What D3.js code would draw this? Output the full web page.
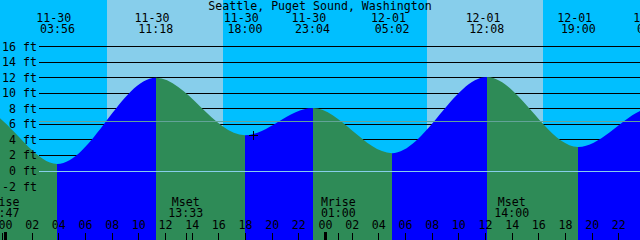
<!DOCTYPE html>
<html><head><meta charset="utf-8">
<script src="https://cdn.jsdelivr.net/npm/d3@7"></script>
<style>
html,body{margin:0;padding:0;background:#fff;overflow:hidden}
svg{display:block}
text{font-family:"DejaVu Sans Mono",monospace;font-size:11.6px;fill:#000}
</style></head><body>
<svg id="chart" width="640" height="240"></svg>
<script>
// ---- data ----
const title = "Seattle, Puget Sound, Washington";
const viewRange = ["2023-11-29T23:37:30", "2023-12-01T23:37:30"];
const tideTimes = ["2023-11-29T16:40:00","2023-11-29T22:00:00","2023-11-30T03:56:00","2023-11-30T11:18:00",
  "2023-11-30T18:00:00","2023-11-30T23:04:00","2023-12-01T05:02:00","2023-12-01T12:08:00",
  "2023-12-01T19:00:00","2023-12-02T00:42:00","2023-12-02T06:10:00"];
const tideLevels = [4.4, 8.1, 0.9, 12.0, 4.6, 8.1, 2.3, 12.1, 3.1, 8.2, 1.6];
const sunriseTimes = ["2023-11-30T07:38:00","2023-12-01T07:38:00"];
const sunsetTimes  = ["2023-11-30T16:20:00","2023-12-01T16:20:00"];
const moonTimes  = ["2023-11-29T23:47:00","2023-11-30T13:33:00","2023-12-01T01:00:00","2023-12-01T14:00:00"];
const moonEvents = ["Mrise","Mset","Mrise","Mset"];
const levelTicks = [-2,0,2,4,6,8,10,12,14,16];
const gridLevels = [2,4,6,8,10,12,14,16];
const datumLevel = 0;
const meanLevel = 6.5;
const nowTime = "2023-11-30T18:37:00";
const nowLevel = 4.6;

// ---- colours ----
const nightColor = "#00BFFF", dayColor = "#87CEEB";
const riseColor = "#0000FF", fallColor = "#2E8B57";
const datumColor = "#87CEEB", meanColor = "#62a398";

const W = 640, H = 240;
const parse = d3.utcParse("%Y-%m-%dT%H:%M:%S");
const svg = d3.select("#chart");

const x = d3.scaleUtc().domain(viewRange.map(parse)).range([0, W]);
const y = d3.scaleLinear().domain([0, 16]).range([171, 46.7]);

const tides = tideTimes.map((t, i) => ({t: parse(t), v: tideLevels[i]}));

// background: night then day bands
svg.append("rect").attr("x",0).attr("y",0).attr("width",W).attr("height",H).attr("fill",nightColor);
svg.append("g").selectAll("rect").data(sunriseTimes.map((s,i)=>[parse(s),parse(sunsetTimes[i])]))
  .join("rect")
  .attr("x", d=>Math.round(x(d[0]))).attr("y",0)
  .attr("width", d=>Math.round(x(d[1]))-Math.round(x(d[0]))).attr("height",H)
  .attr("fill", dayColor);

// grid lines
svg.append("g").attr("shape-rendering","crispEdges").selectAll("line").data(gridLevels).join("line")
  .attr("x1",39).attr("x2",W).attr("y1",d=>y(d)).attr("y2",d=>y(d))
  .attr("stroke","#000").attr("stroke-width",1);

// tide fill, coloured by rising / falling
const area = d3.area().x(d=>x(d.t)).y0(H).y1(d=>y(d.v)).curve(d3.curveMonotoneX);
const defs = svg.append("defs");
const segs = d3.pairs(tides);
segs.forEach((p, i) => {
  const x0 = Math.round(x(p[0].t)), x1 = Math.round(x(p[1].t));
  defs.append("clipPath").attr("id","seg"+i).append("rect")
    .attr("x",x0).attr("y",0).attr("width",x1-x0).attr("height",H);
  svg.append("path").datum(tides).attr("d",area)
    .attr("clip-path","url(#seg"+i+")")
    .attr("fill", p[1].v > p[0].v ? riseColor : fallColor);
});

// datum and mean lines
svg.append("g").attr("shape-rendering","crispEdges").selectAll("line")
  .data([{v:meanLevel,c:meanColor},{v:datumLevel,c:datumColor}]).join("line")
  .attr("x1",39).attr("x2",W).attr("y1",d=>Math.round(y(d.v))+0.5).attr("y2",d=>Math.round(y(d.v))+0.5)
  .attr("stroke",d=>d.c).attr("stroke-width",1);

// level labels
svg.append("g").selectAll("text").data(levelTicks).join("text")
  .attr("x",37).attr("y",d=>y(d)+4).attr("text-anchor","end")
  .text(d=>d+" ft");

// title
svg.append("text").attr("x",W/2).attr("y",9.5).attr("text-anchor","middle").text(title);

// tide extreme labels (only those that reach into the view)
const fDate = d3.utcFormat("%m-%d"), fTime = d3.utcFormat("%H:%M");
const tl = svg.append("g").selectAll("g").data(tides.filter(d => x(d.t) > -15 && x(d.t) < W + 20)).join("g")
  .attr("transform", d=>`translate(${x(d.t)},0)`);
tl.append("text").attr("x",-3.7).attr("y",21.7).attr("text-anchor","middle").text(d=>fDate(d.t));
tl.append("text").attr("x",0).attr("y",33.3).attr("text-anchor","middle").text(d=>fTime(d.t));

// moon events
const moons = moonTimes.map((t,i)=>({t:parse(t), e:moonEvents[i]}));
const ml = svg.append("g").selectAll("g").data(moons).join("g")
  .attr("transform", d=>`translate(${x(d.t)},0)`);
ml.append("text").attr("y",206).attr("text-anchor","middle").text(d=>d.e);
ml.append("text").attr("y",217.3).attr("text-anchor","middle").text(d=>fTime(d.t));
ml.append("line").attr("x1",0.5).attr("x2",0.5).attr("y1",233).attr("y2",H)
  .attr("stroke","#000").attr("shape-rendering","crispEdges");

// hour axis
const ax = svg.append("g").attr("transform",`translate(0,${H})`)
  .call(d3.axisTop(x).ticks(d3.utcHour.every(2)).tickFormat(d3.utcFormat("%H")).tickSize(7).tickPadding(3.7));
ax.select(".domain").remove();
ax.attr("font-family",null).attr("font-size",null);
ax.selectAll("line").attr("stroke","#000").attr("shape-rendering","crispEdges");
ax.selectAll(".tick").filter(d=>d.getUTCHours()===0).select("line")
  .attr("stroke-width",3).attr("y2",-8);
ax.selectAll("text").attr("fill","#000");

// current-time marker
const cx = x(parse(nowTime)), cy = y(nowLevel);
svg.append("path").attr("d",`M${Math.round(cx)-4},${Math.round(cy)+0.5}H${Math.round(cx)+5}M${Math.round(cx)+0.5},${Math.round(cy)-4}V${Math.round(cy)+5}`)
  .attr("stroke","#000").attr("stroke-width",1).attr("fill","none");
</script>
</body></html>
